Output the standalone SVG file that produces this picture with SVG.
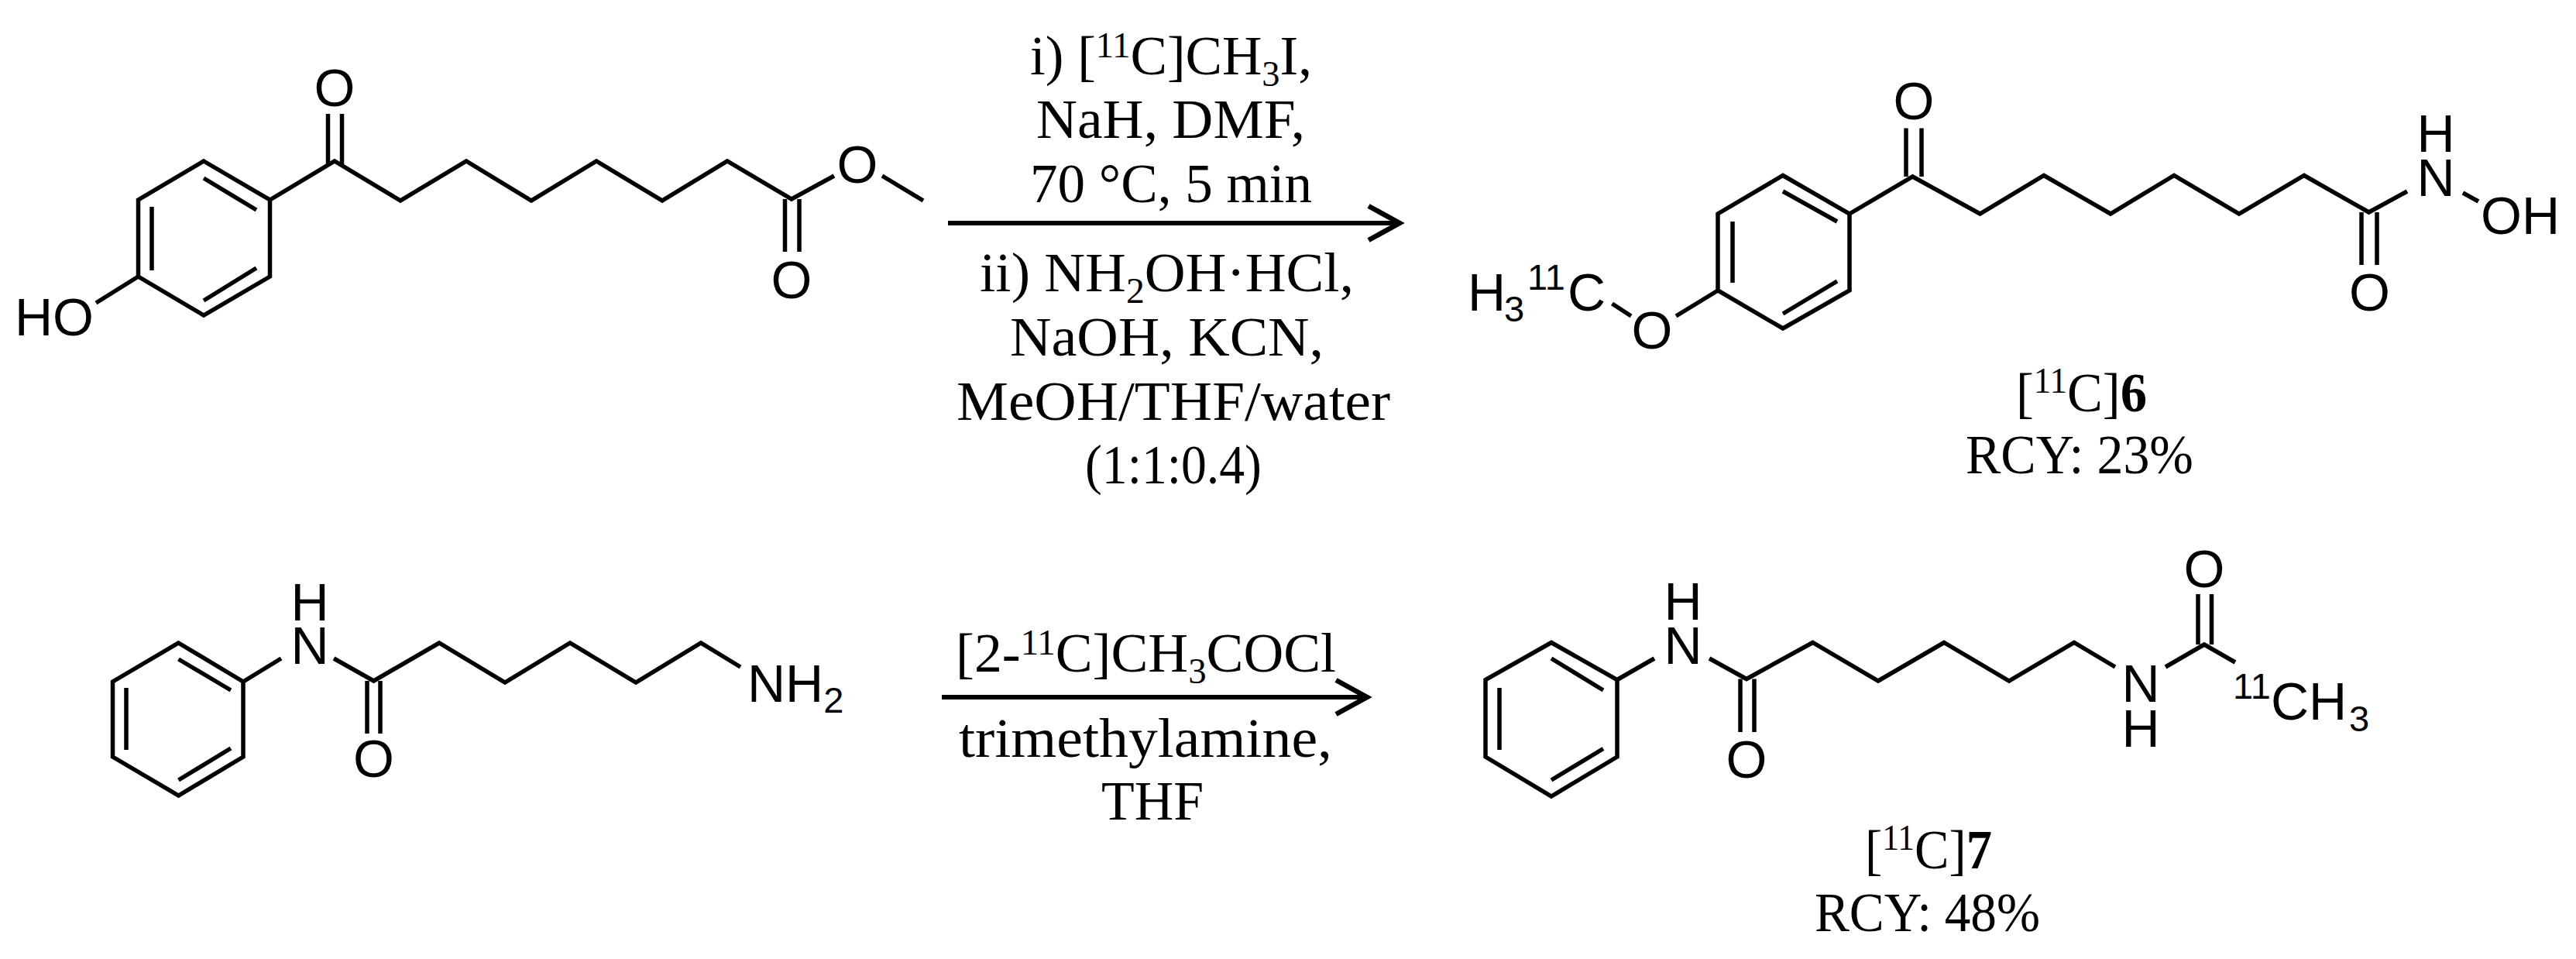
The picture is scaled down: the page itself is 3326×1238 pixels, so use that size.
<svg xmlns="http://www.w3.org/2000/svg" width="3326" height="1238" viewBox="0 0 3326 1238">
<style>
.b{fill:none;stroke:#000;stroke-width:5.5;stroke-linejoin:miter;stroke-linecap:butt}
.a{font-family:"Liberation Sans",Arial,sans-serif;font-size:68px;fill:#000}
.m{text-anchor:middle}
.s{font-size:47px}
.t{font-family:"Liberation Serif","Times New Roman",serif;font-size:72px;fill:#000}
.u{font-size:47px}
.w{font-weight:bold}
.ar{fill:none;stroke:#000;stroke-width:6}
</style>
<defs>
<marker id="head" markerUnits="userSpaceOnUse" markerWidth="60" markerHeight="60" refX="46" refY="30" orient="auto" viewBox="0 0 60 60">
<path d="M4 8 L44 30 L4 52" fill="none" stroke="#000" stroke-width="6.5"/>
</marker>
</defs>
<rect width="3326" height="1238" fill="#fff"/>

<g id="reactant-1">
<path class="b" d="M263 208L348.500 258V357L263 407L178.500 357V258ZM263 230L331 271M196 267V349M331 346L263 388"/>
<path class="b" d="M124 391L178.500 357M348.500 258L432 208L517 259L602 208L686 259L770 208L855 259L939 208L1022 257L1077 227M1139 227L1192 259"/>
<path class="b" d="M423.500 147V212M441.500 147V212M1013.500 257V325M1032 257V325"/>
<text class="a" x="19" y="433">HO</text>
<text class="a m" x="432" y="137">O</text>
<text class="a m" x="1107" y="236">O</text>
<text class="a m" x="1022" y="385">O</text>
</g>

<g id="product-6">
<path class="b" d="M2302 226.500L2388 276V375L2302 424L2218 375V276ZM2302 247L2372 286M2237 286V365M2372 363L2302 405"/>
<path class="b" d="M2081.500 392L2106 408M2164 408L2218 375M2388 276L2469.500 228L2556.500 276L2639 226.500L2725 276L2807 226.500L2891 276L2975 226.500L3058.500 274L3108 247M3180 249L3200 260"/>
<path class="b" d="M2461 165.500V228M2481 165.500V228M3049 274V342M3069 274V342"/>
<text class="a m" x="2471" y="154">O</text>
<text class="a m" x="3145" y="196">H</text>
<text class="a m" x="3145" y="253">N</text>
<text class="a" x="3203" y="302">OH</text>
<text class="a m" x="3059.500" y="401">O</text>
<text class="a" x="1895" y="401">H<tspan class="s" x="1942" dy="14">3</tspan><tspan class="s" x="1972" dy="-41">11</tspan><tspan x="2024" dy="27">C</tspan></text>
<text class="a m" x="2133" y="450">O</text>
<text class="t" x="2603" y="531" textLength="169" lengthAdjust="spacingAndGlyphs">[<tspan class="u" dy="-24">11</tspan><tspan dy="24">C]</tspan><tspan class="w">6</tspan></text>
<text class="t" x="2538" y="611" textLength="294" lengthAdjust="spacingAndGlyphs">RCY: 23%</text>
</g>

<g id="reactant-2">
<path class="b" d="M230.500 830L314 880V977L230.500 1027L145.500 977V880ZM230.500 851L298 891M163 888V968M298 966L230.500 1007"/>
<path class="b" d="M314 880L363 850M431 850L482.500 879L567 830L652 881L736 830L821 881L905 830L956 861"/>
<path class="b" d="M474 879V947M491 879V947"/>
<text class="a m" x="400" y="801">H</text>
<text class="a m" x="400" y="857">N</text>
<text class="a m" x="482.500" y="1003">O</text>
<text class="a" x="965" y="906">NH<tspan class="s" dy="14">2</tspan></text>
</g>

<g id="product-7">
<path class="b" d="M2003 829.500L2088 877.500V977L2003 1028L1918 977V877.500ZM2003 850L2070 891M1936 888V968M2070 966.500L2003 1007"/>
<path class="b" d="M2088 877.500L2136 850M2207 850L2255 876.500L2340.500 829.500L2425 879L2510 829.500L2594 879L2678 829.500L2731 861M2796 861L2846 832L2886 855"/>
<path class="b" d="M2247 876.500V945M2265 876.500V945M2838 767V832M2855.500 767V832"/>
<text class="a m" x="2173" y="800">H</text>
<text class="a m" x="2173" y="857">N</text>
<text class="a m" x="2255" y="1004">O</text>
<text class="a m" x="2764" y="906">N</text>
<text class="a m" x="2764" y="964">H</text>
<text class="a m" x="2846" y="758">O</text>
<text class="a" x="2883" y="902"><tspan class="s">11</tspan><tspan x="2932" dy="27">CH</tspan><tspan class="s" x="3033" dy="15">3</tspan></text>
<text class="t" x="2408" y="1121" textLength="164" lengthAdjust="spacingAndGlyphs">[<tspan class="u" dy="-24">11</tspan><tspan dy="24">C]</tspan><tspan class="w">7</tspan></text>
<text class="t" x="2343" y="1202" textLength="291" lengthAdjust="spacingAndGlyphs">RCY: 48%</text>
</g>

<g id="connectors">
<path class="ar" d="M1224 288H1809" marker-end="url(#head)"/>
<path class="ar" d="M1216 900H1767" marker-end="url(#head)"/>
</g>

<g id="conditions-1">
<text class="t" x="1330" y="96" textLength="364" lengthAdjust="spacingAndGlyphs">i) [<tspan class="u" dy="-22">11</tspan><tspan dy="22">C]CH</tspan><tspan class="u" dy="15">3</tspan><tspan dy="-15">I,</tspan></text>
<text class="t" x="1338" y="178" textLength="347" lengthAdjust="spacingAndGlyphs">NaH, DMF,</text>
<text class="t" x="1330" y="261" textLength="364" lengthAdjust="spacingAndGlyphs">70 °C, 5 min</text>
<text class="t" x="1265" y="376" textLength="483" lengthAdjust="spacingAndGlyphs">ii) NH<tspan class="u" dy="15">2</tspan><tspan dy="-15">OH·HCl,</tspan></text>
<text class="t" x="1304" y="459" textLength="405" lengthAdjust="spacingAndGlyphs">NaOH, KCN,</text>
<text class="t" x="1235" y="542" textLength="560" lengthAdjust="spacingAndGlyphs">MeOH/THF/water</text>
<text class="t" x="1401" y="624" textLength="228" lengthAdjust="spacingAndGlyphs">(1:1:0.4)</text>
</g>

<g id="conditions-2">
<text class="t" x="1234" y="867" textLength="491" lengthAdjust="spacingAndGlyphs">[2-<tspan class="u" dy="-22">11</tspan><tspan dy="22">C]CH</tspan><tspan class="u" dy="15">3</tspan><tspan dy="-15">COCl</tspan></text>
<text class="t" x="1238" y="977" textLength="482" lengthAdjust="spacingAndGlyphs">trimethylamine,</text>
<text class="t" x="1422" y="1058" textLength="132" lengthAdjust="spacingAndGlyphs">THF</text>
</g>
</svg>
